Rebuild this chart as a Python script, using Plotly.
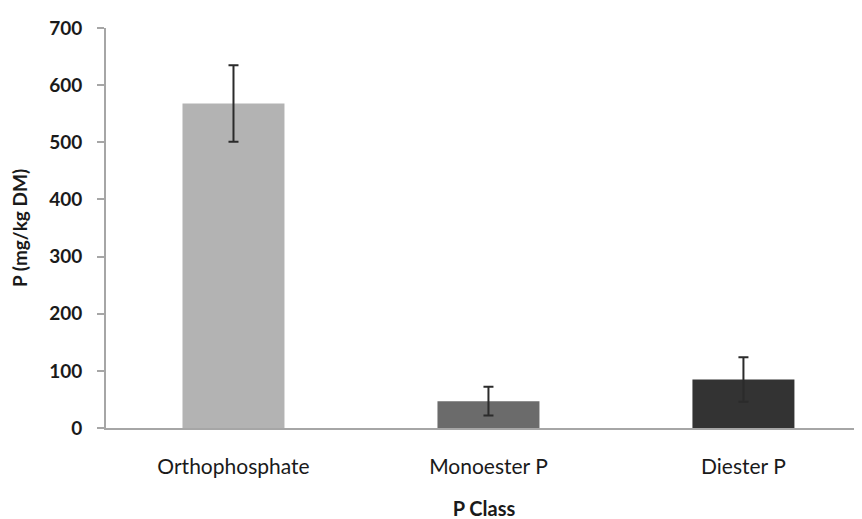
import plotly.graph_objects as go

categories = ["Orthophosphate", "Monoester P", "Diester P"]
values = [568, 47, 85]
errors = [67, 25, 39]
colors = ["#b3b3b3", "#6b6b6b", "#333333"]
y_ticks = [0, 100, 200, 300, 400, 500, 600, 700]

fig = go.Figure(go.Bar(
    x=categories, y=values, marker=dict(color=colors, line=dict(width=0)),
    error_y=dict(type="data", array=errors, visible=True, color="#2b2b2b", thickness=2, width=5),
))

fig.update_layout(
    width=862, height=519,
    margin=dict(l=98, r=8, t=15, b=99),
    paper_bgcolor="white", plot_bgcolor="white",
    bargap=0.6, showlegend=False,
    font=dict(family="Lato", color="#1a1a1a"),
)
fig.update_xaxes(
    range=[-0.5, 2.465], showline=True, linecolor="#a6a6a6", linewidth=2,
    ticks="", tickfont=dict(size=21, family="Lato"), ticklabelstandoff=19,
    title=dict(text="<b>P Class</b>", font=dict(size=20), standoff=25),
    showgrid=False, zeroline=False,
)
fig.update_yaxes(
    range=[0, 700], tickvals=y_ticks, showline=True, linecolor="#a6a6a6", linewidth=2,
    ticks="outside", ticklen=7, tickcolor="#a6a6a6", tickwidth=2,
    tickfont=dict(size=19, family="Lato", weight="bold"), ticklabelstandoff=11,
    title=dict(text="<b>P (mg/kg DM)</b>", font=dict(size=19), standoff=16),
    showgrid=False, zeroline=False,
)

fig.write_html("out.html")
